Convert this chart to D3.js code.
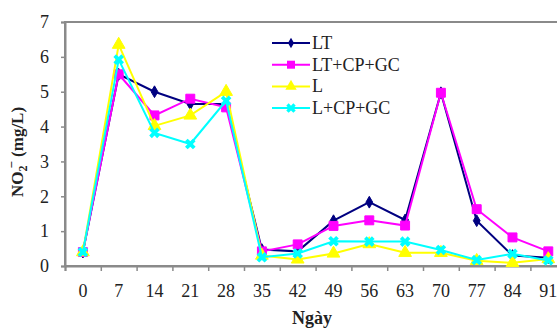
<!DOCTYPE html>
<html>
<head>
<meta charset="utf-8">
<script src="https://cdn.jsdelivr.net/npm/d3@7"></script>
<style>
  body { margin: 0; background: #fff; }
  svg text { font-family: "Liberation Serif", "Times New Roman", serif; fill: #222; }
</style>
</head>
<body>
<div id="chart"></div>
<script>
// Days (x categories)
const days = ['0', '7', '14', '21', '28', '35', '42', '49', '56', '63', '70', '77', '84', '91'];
const yTicks = [0, 1, 2, 3, 4, 5, 6, 7];

// NO2- (mg/L) per treatment
const lt = [0.4, 5.5, 5.0, 4.65, 4.65, 0.47, 0.42, 1.3, 1.83, 1.32, 4.97, 1.3, 0.3, 0.24];
const ltCpGc = [0.4, 5.5, 4.32, 4.8, 4.55, 0.42, 0.62, 1.15, 1.31, 1.16, 4.97, 1.63, 0.82, 0.42];
const l = [0.4, 6.35, 4.02, 4.32, 5.0, 0.3, 0.19, 0.36, 0.63, 0.38, 0.38, 0.15, 0.09, 0.2];
const lCpGc = [0.4, 5.92, 3.82, 3.5, 4.74, 0.25, 0.36, 0.71, 0.7, 0.7, 0.46, 0.17, 0.35, 0.16];

const series = [
  { name: 'LT', values: lt, color: '#000080', symbol: d3.symbolDiamond, size: 40 },
  { name: 'LT+CP+GC', values: ltCpGc, color: '#ff00ff', symbol: d3.symbolSquare, size: 80 },
  { name: 'L', values: l, color: '#ffff00', symbol: d3.symbolTriangle, size: 70 },
  { name: 'L+CP+GC', values: lCpGc, color: '#00ffff', symbol: d3.symbolCross, size: 70, rotate: 45 }
];

const W = 557, H = 330;
const plotLeft = 65, plotTop = 22, plotBottom = 266;
const step = 35.8;
const plotRight = plotLeft + step * days.length;

const svg = d3.select('#chart').append('svg')
  .attr('width', W).attr('height', H);

const x = d3.scaleBand().domain(days).range([plotLeft, plotRight]);
const xEdge = d3.scaleLinear().domain([0, days.length]).range([plotLeft, plotRight]);
const y = d3.scaleLinear().domain([0, 7]).range([plotBottom, plotTop]);

// plot frame
svg.append('rect')
  .attr('x', plotLeft).attr('y', plotTop)
  .attr('width', plotRight - plotLeft).attr('height', plotBottom - plotTop)
  .attr('fill', 'none').attr('stroke', '#8a8a8a').attr('stroke-width', 2);

// Y axis
const yAxis = svg.append('g')
  .attr('transform', `translate(${plotLeft},0)`)
  .call(d3.axisLeft(y).tickValues(yTicks).tickSize(4).tickPadding(12).tickFormat(d3.format('d')));
yAxis.select('.domain').attr('stroke', '#8a8a8a').attr('stroke-width', 2);
yAxis.selectAll('line').attr('stroke', '#8a8a8a').attr('stroke-width', 1.5);
yAxis.selectAll('text').style('font-size', '18px').attr('fill', '#222');

// X axis: ticks between categories, labels at the centres
const xTickAxis = svg.append('g')
  .attr('transform', `translate(0,${plotBottom})`)
  .call(d3.axisBottom(xEdge).tickValues(d3.range(0, days.length + 1)).tickSize(5).tickFormat(''));
xTickAxis.select('.domain').attr('stroke', '#8a8a8a').attr('stroke-width', 2);
xTickAxis.selectAll('line').attr('stroke', '#8a8a8a').attr('stroke-width', 1.5);

const xLabAxis = svg.append('g')
  .attr('transform', `translate(0,${plotBottom})`)
  .call(d3.axisBottom(x).tickSize(0).tickPadding(18));
xLabAxis.select('.domain').remove();
xLabAxis.selectAll('text').style('font-size', '18px').attr('fill', '#222');

// axis titles
svg.append('text')
  .attr('x', 312).attr('y', 324)
  .attr('text-anchor', 'middle')
  .style('font-size', '18px').style('font-weight', 'bold')
  .text('Ngày');

const yTitle = svg.append('text')
  .attr('transform', 'translate(23,152) rotate(-90)')
  .attr('text-anchor', 'middle')
  .style('font-size', '17px').style('font-weight', 'bold');
yTitle.append('tspan').text('NO');
yTitle.append('tspan').attr('dy', 4).style('font-size', '12px').text('2');
yTitle.append('tspan').attr('dy', -11).attr('dx', -3).style('font-size', '13px').text('−');
yTitle.append('tspan').attr('dy', 7).text(' (mg/L)');

// lines and markers
const line = d3.line()
  .x((d, i) => x(days[i]) + x.bandwidth() / 2)
  .y(d => y(d));

series.forEach(s => {
  svg.append('path')
    .datum(s.values)
    .attr('fill', 'none')
    .attr('stroke', s.color)
    .attr('stroke-width', 2)
    .attr('d', line);

  svg.append('g').selectAll('path')
    .data(s.values)
    .join('path')
    .attr('d', d3.symbol().type(s.symbol).size(s.size))
    .attr('transform', (d, i) =>
      `translate(${x(days[i]) + x.bandwidth() / 2},${y(d)}) rotate(${s.rotate || 0})`)
    .attr('fill', s.color)
    .attr('stroke', s.symbol === d3.symbolCross ? 'none' : s.color);
});

// legend
const legend = svg.append('g').attr('transform', 'translate(272,43)');
series.forEach((s, i) => {
  const g = legend.append('g').attr('transform', `translate(0,${i * 21.7})`);
  g.append('line')
    .attr('x1', 0).attr('x2', 38)
    .attr('stroke', s.color).attr('stroke-width', 2);
  g.append('path')
    .attr('d', d3.symbol().type(s.symbol).size(s.size * 0.8))
    .attr('transform', `translate(19,0) rotate(${s.rotate || 0})`)
    .attr('fill', s.color);
  g.append('text')
    .attr('x', 40).attr('y', 6)
    .style('font-size', '18px')
    .text(s.name);
});
</script>
</body>
</html>
